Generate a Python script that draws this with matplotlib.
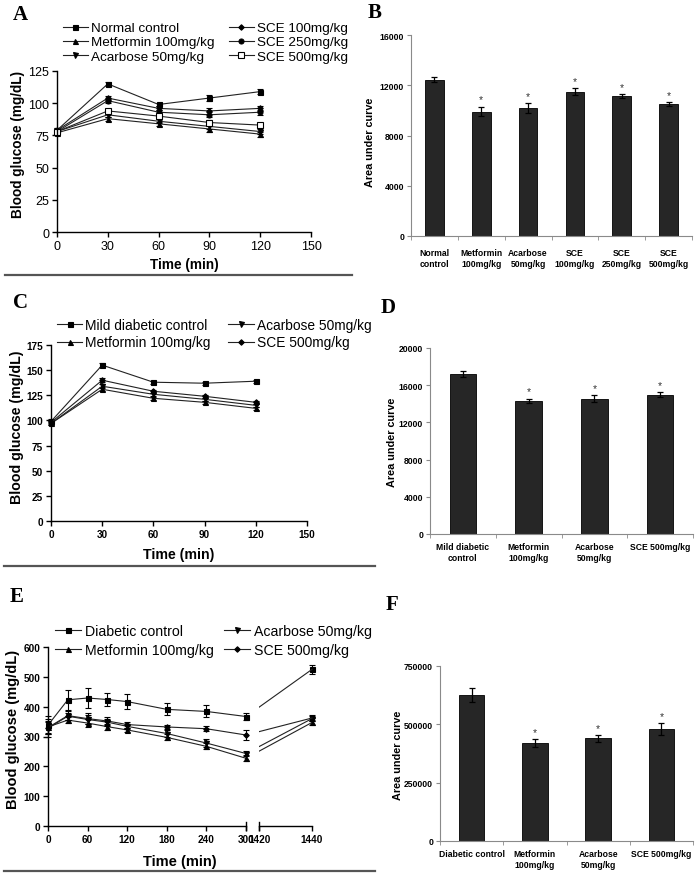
import numpy as np
import matplotlib
matplotlib.use('Agg')
import matplotlib.pyplot as plt
from matplotlib import font_manager
from matplotlib.patches import Rectangle
from matplotlib.lines import Line2D

W, H = 699, 878

# ---- data -------------------------------------------------------------
# A: oral glucose tolerance, normal rats
t_a = [0, 30, 60, 90, 120]
normal_ctrl = [79, 115, 99, 104, 109]
metformin_a = [77, 88, 84, 80, 76]
acarbose_a = [78, 91, 86, 82, 78]
sce100_a = [79, 104, 96, 94, 96]
sce250_a = [78, 102, 93, 91, 93]
sce500_a = [78, 94, 90, 85, 83]
err_a = [1.5, 1.5, 1.5, 2, 2]

# B: AUC, normal rats
groups_b = ['Normal\ncontrol', 'Metformin\n100mg/kg', 'Acarbose\n50mg/kg',
            'SCE\n100mg/kg', 'SCE\n250mg/kg', 'SCE\n500mg/kg']
auc_b = [12450, 9900, 10200, 11500, 11150, 10500]
auc_b_err = [180, 380, 380, 250, 150, 130]
sig_b = [False, True, True, True, True, True]

# C: mild diabetic rats
t_c = [0, 30, 60, 90, 120]
mild_ctrl = [99, 155, 138, 137, 139]
metformin_c = [97, 131, 122, 118, 112]
acarbose_c = [97, 134, 126, 121, 115]
sce500_c = [98, 140, 129, 124, 118]
err_c = [2, 2, 1.5, 1.5, 1.5]

# D: AUC, mild diabetic rats
groups_d = ['Mild diabetic\ncontrol', 'Metformin\n100mg/kg', 'Acarbose\n50mg/kg', 'SCE 500mg/kg']
auc_d = [17200, 14300, 14550, 15000]
auc_d_err = [300, 250, 350, 250]
sig_d = [False, True, True, True]

# E: diabetic rats, long time course
t_e = [0, 30, 60, 90, 120, 180, 240, 300, 1440]
diab_ctrl = [338, 423, 429, 424, 417, 391, 384, 367, 525]
diab_ctrl_err = [30, 33, 35, 22, 25, 20, 20, 12, 15]
metformin_e = [332, 355, 345, 333, 322, 297, 267, 227, 347]
metformin_e_err = [20, 10, 12, 10, 8, 10, 10, 10, 8]
acarbose_e = [328, 368, 357, 348, 334, 310, 278, 243, 360]
acarbose_e_err = [20, 12, 15, 12, 8, 12, 12, 10, 8]
sce500_e = [330, 370, 360, 352, 340, 332, 326, 305, 362]
sce500_e_err = [30, 15, 18, 15, 10, 8, 8, 18, 10]

# F: AUC, diabetic rats
groups_f = ['Diabetic control', 'Metformin\n100mg/kg', 'Acarbose\n50mg/kg', 'SCE 500mg/kg']
auc_f = [627000, 420000, 440000, 480000]
auc_f_err = [30000, 16000, 14000, 27000]
sig_f = [False, True, True, True]

# axis break for panel E
BREAK_LO, BREAK_HI = 300, 1420

# ---- fonts ------------------------------------------------------------
names = {f.name for f in font_manager.fontManager.ttflist}
SANS = 'Liberation Sans' if 'Liberation Sans' in names else 'DejaVu Sans'
NARROW = 'Liberation Sans Narrow' if 'Liberation Sans Narrow' in names else SANS
SERIF = 'Liberation Serif' if 'Liberation Serif' in names else 'DejaVu Serif'
plt.rcParams['font.family'] = SANS

fig = plt.figure(figsize=(W / 100, H / 100), dpi=100)


def rect(l, r, t, b):
    return [l / W, 1 - b / H, (r - l) / W, (b - t) / H]


def fx(x):
    return x / W


def fy(y):
    return 1 - y / H


def letter(x, y, s):
    fig.text(fx(x), fy(y), s, family=SERIF, fontweight='bold', fontsize=15,
             ha='center', va='center')


def separator(x0, x1, y):
    fig.add_artist(Line2D([fx(x0), fx(x1)], [fy(y), fy(y)], color='#555555', lw=1.6))


def line_axes_style(ax, tick_font, tick_size, tick_weight):
    for s in ['top', 'right']:
        ax.spines[s].set_visible(False)
    for s in ['left', 'bottom']:
        ax.spines[s].set_linewidth(1.0)
    ax.tick_params(length=3.5, width=1.0, pad=2)
    for lab in ax.get_xticklabels() + ax.get_yticklabels():
        lab.set_family(tick_font)
        lab.set_fontsize(tick_size)
        lab.set_fontweight(tick_weight)


def labels(ax, xl, xpos, yl, ypos, size):
    ax.set_xlabel(xl, fontsize=size, fontweight='bold')
    ax.set_ylabel(yl, fontsize=size, fontweight='bold')
    ax.xaxis.label.set_va('center')
    ax.yaxis.label.set_va('center')
    ax.xaxis.set_label_coords(fx(xpos[0]), fy(xpos[1]), transform=fig.transFigure)
    ax.yaxis.set_label_coords(fx(ypos[0]), fy(ypos[1]), transform=fig.transFigure)


def series(ax, t, y, err, marker, ms=3.6, face='k', label=None):
    ax.errorbar(t, y, yerr=err, fmt='none', ecolor='k', elinewidth=0.8, capsize=2, capthick=0.8,
                clip_on=False)
    ln, = ax.plot(t, y, color='#222222', lw=0.8, marker=marker, ms=ms, mfc=face, mec='k',
                  mew=0.8, label=label, clip_on=False)
    return ln


def bar_panel(ax, groups, vals, errs, sig, ymax, yticks, ylab_pos, pad):
    x = np.arange(len(groups))
    ax.bar(x, vals, width=0.4, color='#262626', edgecolor='k', lw=0.6)
    ax.errorbar(x, vals, yerr=errs, fmt='none', ecolor='k', elinewidth=0.9, capsize=2.5,
                capthick=0.9)
    for xi, v, e, s in zip(x, vals, errs, sig):
        if s:
            ax.text(xi, v + e + 0.012 * ymax, '*', ha='center', va='bottom',
                    family=NARROW, fontsize=7.5, color='#333333')
    ax.set_xlim(-0.5, len(groups) - 0.5)
    ax.set_ylim(0, ymax)
    ax.set_yticks(yticks)
    ax.set_xticks(x)
    ax.set_xticklabels(groups)
    ax.set_xticks(np.arange(len(groups) + 1) - 0.5, minor=True)
    for s in ['top', 'right']:
        ax.spines[s].set_visible(False)
    for s in ['left', 'bottom']:
        ax.spines[s].set_color('#8a8a8a')
        ax.spines[s].set_linewidth(0.8)
    ax.tick_params(axis='y', length=3, color='#8a8a8a', pad=2)
    ax.tick_params(axis='x', which='major', length=0, pad=pad)
    ax.tick_params(axis='x', which='minor', length=3, color='#8a8a8a')
    for lab in ax.get_xticklabels() + ax.get_yticklabels():
        lab.set_family(NARROW)
        lab.set_fontsize(6.2)
        lab.set_fontweight('bold')
    ax.set_ylabel('Area under curve', family=NARROW, fontsize=7.8, fontweight='bold')
    ax.yaxis.label.set_va('center')
    ax.yaxis.set_label_coords(fx(ylab_pos[0]), fy(ylab_pos[1]), transform=fig.transFigure)


# ---- A -----------------------------------------------------------------
axA = fig.add_axes(rect(57, 311, 72, 233))
hA = [series(axA, t_a, normal_ctrl, err_a, 's', label='Normal control'),
      series(axA, t_a, metformin_a, err_a, '^', label='Metformin 100mg/kg'),
      series(axA, t_a, acarbose_a, err_a, 'v', label='Acarbose 50mg/kg'),
      series(axA, t_a, sce100_a, err_a, 'D', ms=2.8, label='SCE 100mg/kg'),
      series(axA, t_a, sce250_a, err_a, 'o', label='SCE 250mg/kg'),
      series(axA, t_a, sce500_a, err_a, 's', ms=4.5, face='white', label='SCE 500mg/kg')]
axA.set_xlim(0, 150)
axA.set_ylim(0, 125)
axA.set_xticks([0, 30, 60, 90, 120, 150])
axA.set_yticks([0, 25, 50, 75, 100, 125])
line_axes_style(axA, SANS, 9, 'normal')
labels(axA, 'Time (min)', (184, 265), 'Blood glucose (mg/dL)', (18, 144), 9.8)
axA.legend(handles=hA, ncol=2, loc='upper left', bbox_to_anchor=(fx(63), fy(23)),
           bbox_transform=fig.transFigure, frameon=False, fontsize=9.7, borderpad=0,
           borderaxespad=0, handlelength=1.85, handletextpad=0.2, columnspacing=1.1,
           labelspacing=0.12)
letter(20, 15, 'A')
separator(5, 352, 276)

# ---- B -----------------------------------------------------------------
axB = fig.add_axes(rect(411, 692, 36, 237))
bar_panel(axB, groups_b, auc_b, auc_b_err, sig_b, 16000, [0, 4000, 8000, 12000, 16000],
          (370, 142), 9)
letter(375, 13, 'B')

# ---- C -----------------------------------------------------------------
axC = fig.add_axes(rect(51, 307, 346, 522))
hC = [series(axC, t_c, mild_ctrl, err_c, 's', label='Mild diabetic control'),
      series(axC, t_c, metformin_c, err_c, '^', label='Metformin 100mg/kg'),
      series(axC, t_c, acarbose_c, err_c, 'v', label='Acarbose 50mg/kg'),
      series(axC, t_c, sce500_c, err_c, 'D', ms=2.8, label='SCE 500mg/kg')]
axC.set_xlim(0, 150)
axC.set_ylim(0, 175)
axC.set_xticks([0, 30, 60, 90, 120, 150])
axC.set_yticks([0, 25, 50, 75, 100, 125, 150, 175])
line_axes_style(axC, NARROW, 7.2, 'bold')
labels(axC, 'Time (min)', (179, 555), 'Blood glucose (mg/dL)', (17, 427), 10.2)
axC.legend(handles=hC, ncol=2, loc='upper left', bbox_to_anchor=(fx(57), fy(319)),
           bbox_transform=fig.transFigure, frameon=False, fontsize=9.9, borderpad=0,
           borderaxespad=0, handlelength=1.85, handletextpad=0.2, columnspacing=1.3,
           labelspacing=0.25)
letter(20, 303, 'C')
separator(4, 375, 567)

# ---- D -----------------------------------------------------------------
axD = fig.add_axes(rect(430, 693, 349, 535))
bar_panel(axD, groups_d, auc_d, auc_d_err, sig_d, 20000, [0, 4000, 8000, 12000, 16000, 20000],
          (392, 442), 6)
letter(388, 308, 'D')

# ---- E (broken time axis) ------------------------------------------------
GAP = 20.0
STRETCH = 4.0


def fwd(x):
    x = np.asarray(x, float)
    return np.where(x <= BREAK_LO, x,
                    np.where(x >= BREAK_HI, BREAK_LO + GAP + (x - BREAK_HI) * STRETCH,
                             BREAK_LO + (x - BREAK_LO) * GAP / (BREAK_HI - BREAK_LO)))


def inv(y):
    y = np.asarray(y, float)
    return np.where(y <= BREAK_LO, y,
                    np.where(y >= BREAK_LO + GAP, BREAK_HI + (y - BREAK_LO - GAP) / STRETCH,
                             BREAK_LO + (y - BREAK_LO) * (BREAK_HI - BREAK_LO) / GAP))


axE = fig.add_axes(rect(48, 312, 648, 827))
axE.set_xscale('function', functions=(fwd, inv))
axE.set_xlim(0, 1440)
axE.set_ylim(0, 600)
clip = Rectangle((BREAK_HI, -100), 200, 900, transform=axE.transData)
hE = []
for y, e, m, ms, lab in [(diab_ctrl, diab_ctrl_err, 's', 3.6, 'Diabetic control'),
                         (metformin_e, metformin_e_err, '^', 3.6, 'Metformin 100mg/kg'),
                         (acarbose_e, acarbose_e_err, 'v', 3.6, 'Acarbose 50mg/kg'),
                         (sce500_e, sce500_e_err, 'D', 2.8, 'SCE 500mg/kg')]:
    hE.append(series(axE, t_e[:-1], y[:-1], e[:-1], m, ms=ms, label=lab))
    series(axE, t_e[-1:], y[-1:], e[-1:], m, ms=ms)
    join, = axE.plot(t_e[-2:], y[-2:], color='#222222', lw=0.8)
    join.set_clip_path(clip)
axE.set_xticks([0, 60, 120, 180, 240, 300, 1420, 1440])
axE.set_xticklabels(['0', '60', '120', '180', '240', '300', '1420', '1440'])
axE.xaxis.set_minor_locator(matplotlib.ticker.NullLocator())
axE.set_yticks([0, 100, 200, 300, 400, 500, 600])
line_axes_style(axE, NARROW, 7.2, 'bold')
axE.spines['bottom'].set_bounds(0, BREAK_LO)
axE.plot([BREAK_HI, 1440], [0, 0], color='k', lw=1.0, clip_on=False)
for xb in (BREAK_LO, BREAK_HI):
    axE.plot([xb, xb], [-14, 14], color='k', lw=1.0, clip_on=False)
labels(axE, 'Time (min)', (180, 862), 'Blood glucose (mg/dL)', (13, 729), 10.5)
axE.legend(handles=hE, ncol=2, loc='upper left', bbox_to_anchor=(fx(55), fy(625)),
           bbox_transform=fig.transFigure, frameon=False, fontsize=10.2, borderpad=0,
           borderaxespad=0, handlelength=1.85, handletextpad=0.25, columnspacing=0.75,
           labelspacing=0.35)
letter(17, 597, 'E')
separator(4, 375, 872)

# ---- F -----------------------------------------------------------------
axF = fig.add_axes(rect(440, 693, 667, 842))
bar_panel(axF, groups_f, auc_f, auc_f_err, sig_f, 750000, [0, 250000, 500000, 750000],
          (398, 755), 6)
letter(392, 605, 'F')

fig.savefig('out.png', dpi=100)
